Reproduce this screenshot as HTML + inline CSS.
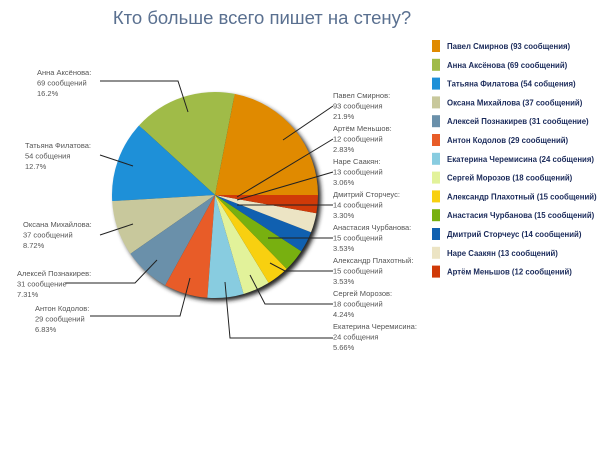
<!DOCTYPE html>
<html><head><meta charset="utf-8"><style>
body{margin:0;background:#fff;width:604px;height:452px;overflow:hidden}
svg text{font-family:"Liberation Sans","DejaVu Sans",sans-serif}
</style></head><body>
<svg id="s" width="604" height="452" xmlns="http://www.w3.org/2000/svg">
<defs><filter id="b" x="-20%" y="-20%" width="140%" height="140%"><feGaussianBlur stdDeviation="2"/></filter></defs>
<text x="262" y="24" text-anchor="middle" font-size="18.5" fill="#5a7090">Кто больше всего пишет на стену?</text>
<circle cx="218" cy="198" r="103" fill="#222" filter="url(#b)"/>
<g id="pie"></g>
<g id="lines" stroke="#222" stroke-width="1" fill="none">
<polyline points="188,112 178,81 100,81"/>
<polyline points="133,166 100,155"/>
<polyline points="133,224 100,235"/>
<polyline points="157,260 135,283 65,283"/>
<polyline points="190,278 180,316 90,316"/>
<polyline points="225,282 230,338 333,338"/>
<polyline points="250,275 265,304 333,304"/>
<polyline points="270,263 285,271 333,271"/>
<polyline points="268,238 333,238"/>
<polyline points="237,205 333,205"/>
<polyline points="237,200 333,172"/>
<polyline points="237,197 333,139"/>
<polyline points="283,140 333,106"/>
</g>
<g id="lab" font-size="7.5" fill="#555"></g>
<g id="leg"></g>
</svg>
<script>
var d=[["Павел Смирнов",93,"#e08a00","93 сообщения","21.9%"],["Анна Аксёнова",69,"#a0bb48","69 сообщений","16.2%"],["Татьяна Филатова",54,"#1e90d8","54 собщения","12.7%"],["Оксана Михайлова",37,"#c8c89c","37 сообщений","8.72%"],["Алексей Познакирев",31,"#6a90aa","31 сообщение","7.31%"],["Антон Кодолов",29,"#e85c28","29 сообщений","6.83%"],["Екатерина Черемисина",24,"#88cce0","24 собщения","5.66%"],["Сергей Морозов",18,"#e2f29a","18 сообщений","4.24%"],["Александр Плахотный",15,"#f8d010","15 сообщений","3.53%"],["Анастасия Чурбанова",15,"#78b010","15 сообщений","3.53%"],["Дмитрий Сторчеус",14,"#1060b0","14 сообщений","3.30%"],["Наре Саакян",13,"#ece4c4","13 сообщений","3.06%"],["Артём Меньшов",12,"#d03a08","12 сообщений","2.83%"]];
var NS="http://www.w3.org/2000/svg",cx=215,cy=195,r=103,a=0,tot=424,pie=document.getElementById("pie");
function el(t,at,p,tx){var e=document.createElementNS(NS,t);for(var k in at)e.setAttribute(k,at[k]);if(tx)e.textContent=tx;p.appendChild(e);return e}
d.forEach(function(s){var a2=a+s[1]/tot*2*Math.PI;var x1=cx+r*Math.cos(a),y1=cy-r*Math.sin(a),x2=cx+r*Math.cos(a2),y2=cy-r*Math.sin(a2);
el("path",{d:"M"+cx+","+cy+"L"+x1+","+y1+"A"+r+","+r+" 0 "+((a2-a)>Math.PI?1:0)+" 0 "+x2+","+y2+"Z",fill:s[2]},pie);a=a2;});
var lab=document.getElementById("lab");
var pos={0:[333,98],12:[333,131],11:[333,164],10:[333,197],9:[333,230],8:[333,263],7:[333,296],6:[333,329],1:[37,75],2:[25,148],3:[23,227],4:[17,276],5:[35,311]};
for(var i in pos){var s=d[i],p=pos[i];el("text",{x:p[0],y:p[1]},lab,s[0]+":");el("text",{x:p[0],y:p[1]+10.5},lab,s[3]);el("text",{x:p[0],y:p[1]+21},lab,s[4]);}
var leg=document.getElementById("leg");
d.forEach(function(s,i){var y=46+i*18.8;el("rect",{x:432,y:y-6,width:8,height:12,fill:s[2]},leg);
el("text",{x:447,y:y+3,"font-size":"7.8","font-weight":"bold",fill:"#1a2a5a"},leg,s[0]+" ("+s[3]+")");});
</script>
</body></html>
